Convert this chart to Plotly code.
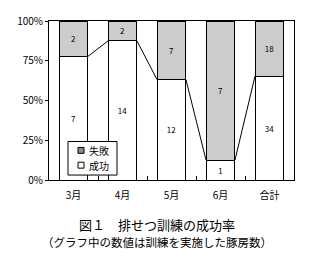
import plotly.graph_objects as go

categories = ["3月", "4月", "5月", "6月", "合計"]
success = [7, 14, 12, 1, 34]
failure = [2, 2, 7, 7, 18]
legend_labels = ["失敗", "成功"]

totals = [s + f for s, f in zip(success, failure)]
s_rate = [s / t for s, t in zip(success, totals)]
f_rate = [f / t for f, t in zip(failure, totals)]
xs = list(range(len(categories)))
W = 0.59
FONT = "Noto Sans CJK JP"

# plot area in pixels
L, R, T, B = 49, 294, 19, 180


def px(xp):
    return (xp - L) / (R - L)


def py(yp):
    return (B - yp) / (B - T)


fig = go.Figure()
fig.add_trace(go.Bar(
    x=xs, y=s_rate, width=W, name="成功",
    marker=dict(color="white", line=dict(color="black", width=1)),
    text=[str(v) for v in success], textposition="inside", insidetextanchor="middle",
    textfont=dict(size=8, color="black", family=FONT), showlegend=False,
))
fig.add_trace(go.Bar(
    x=xs, y=f_rate, width=W, name="失敗",
    marker=dict(color="white", line=dict(color="black", width=1),
                pattern=dict(shape=".", fgcolor="black", bgcolor="white", size=2, solidity=0.45)),
    text=[str(v) for v in failure], textposition="inside", insidetextanchor="middle",
    textfont=dict(size=8, color="black", family=FONT), showlegend=False,
))
# series lines
for i in range(len(xs) - 1):
    fig.add_trace(go.Scatter(
        x=[xs[i] + W / 2, xs[i + 1] - W / 2], y=[s_rate[i], s_rate[i + 1]],
        mode="lines", line=dict(color="black", width=1), showlegend=False, hoverinfo="skip",
    ))

# manual legend
fig.add_shape(type="rect", xref="paper", yref="paper",
              x0=px(68), x1=px(117), y0=py(175), y1=py(141),
              line=dict(color="black", width=1), fillcolor="white", layer="above")
icon_fill = ["#8c8c8c", "white"]
for k, (lab, cy) in enumerate(zip(legend_labels, [150, 165])):
    fig.add_shape(type="rect", xref="paper", yref="paper",
                  x0=px(78), x1=px(84), y0=py(cy + 3), y1=py(cy - 3),
                  line=dict(color="black", width=1), fillcolor=icon_fill[k], layer="above")
    fig.add_annotation(text=lab, xref="paper", yref="paper", x=px(88), y=py(cy),
                       xanchor="left", yanchor="middle", showarrow=False,
                       font=dict(size=10, family=FONT), borderpad=0)

fig.update_layout(
    barmode="stack",
    width=314, height=262,
    margin=dict(l=L, r=314 - R, t=T, b=262 - B),
    paper_bgcolor="white", plot_bgcolor="white",
    font=dict(family=FONT, size=10, color="black"),
    showlegend=False,
    uniformtext=dict(minsize=6, mode="show"),
)
fig.update_xaxes(
    range=[-0.5, 4.5], tickmode="array", tickvals=xs, ticktext=categories,
    ticks="", showline=True, linecolor="black", linewidth=1, mirror=True,
    showgrid=False, zeroline=False, tickfont=dict(size=10, family=FONT),
    ticklabelstandoff=6,
    minor=dict(tickmode="array", tickvals=[0.5, 1.5, 2.5, 3.5], ticks="inside",
               ticklen=4, tickcolor="black", showgrid=False),
)
fig.update_yaxes(
    range=[0, 1], tickmode="array", tickvals=[0, 0.25, 0.5, 0.75, 1.0],
    ticktext=["0%", "25%", "50%", "75%", "100%"],
    ticks="outside", ticklen=3, tickcolor="black",
    showline=True, linecolor="black", linewidth=1, mirror=True,
    showgrid=False, zeroline=False, tickfont=dict(size=10, family=FONT),
)
fig.add_annotation(text="図１　排せつ訓練の成功率", xref="paper", yref="paper",
                   x=px(157), y=py(225), xanchor="center", yanchor="middle",
                   showarrow=False, font=dict(size=13, family=FONT), borderpad=0)
fig.add_annotation(text="（グラフ中の数値は訓練を実施した豚房数）", xref="paper", yref="paper",
                   x=px(157), y=py(243), xanchor="center", yanchor="middle",
                   showarrow=False, font=dict(size=11.5, family=FONT), borderpad=0)

fig.write_html("out.html")
